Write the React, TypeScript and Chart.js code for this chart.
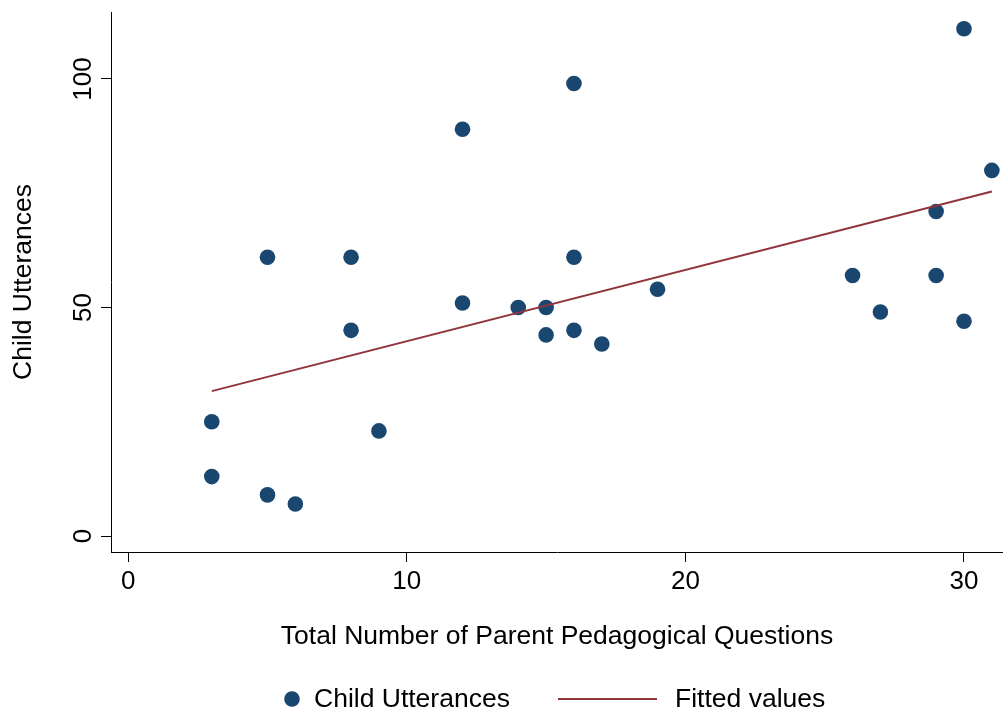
import React, { useEffect, useRef } from "react";
import { Chart, registerables } from "chart.js";

Chart.register(...registerables);

const questions = [3, 3, 5, 5, 6, 8, 8, 9, 12, 12, 14, 15, 15, 16, 16, 16, 17, 19, 26, 27, 29, 29, 30, 30, 31];
const utterances = [25, 13, 61, 9, 7, 61, 45, 23, 89, 51, 50, 50, 44, 99, 61, 45, 42, 54, 57, 49, 71, 57, 111, 47, 80];
const fitX = [3, 31];
const fitY = [31.7, 75.4];
const xTicks = [0, 10, 20, 30];
const yTicks = [0, 50, 100];
const xTitle = "Total Number of Parent Pedagogical Questions";
const yTitle = "Child Utterances";
const seriesNames = ["Child Utterances", "Fitted values"];

const NAVY = "#1a476f";
const MAROON = "#90353b";
const FONT = "'Liberation Sans', Arial, Helvetica, sans-serif";

const legendPlugin = {
  id: "stataLegend",
  afterDraw(chart: any) {
    const ctx = chart.ctx;
    const ds = chart.data.datasets;
    ctx.save();
    ctx.font = `26.5px ${FONT}`;
    ctx.textBaseline = "middle";
    ctx.textAlign = "left";
    const cy = 699;
    // scatter item
    ctx.fillStyle = ds[0].backgroundColor;
    ctx.beginPath();
    ctx.arc(292, cy, 7.8, 0, Math.PI * 2);
    ctx.fill();
    ctx.fillStyle = "#000";
    ctx.fillText(ds[0].label, 314, cy + 1);
    // line item
    ctx.strokeStyle = ds[1].borderColor;
    ctx.lineWidth = 2;
    ctx.beginPath();
    ctx.moveTo(558, cy);
    ctx.lineTo(657, cy);
    ctx.stroke();
    ctx.fillStyle = "#000";
    ctx.fillText(ds[1].label, 675, cy + 1);
    ctx.restore();
  },
};

export default function App() {
  const ref = useRef<HTMLCanvasElement | null>(null);
  useEffect(() => {
    if (!ref.current) return;
    const chart = new Chart(ref.current, {
      type: "scatter",
      data: {
        datasets: [
          {
            type: "scatter",
            label: seriesNames[0],
            data: questions.map((x, i) => ({ x, y: utterances[i] })),
            backgroundColor: NAVY,
            borderColor: NAVY,
            borderWidth: 0,
            pointRadius: 7.8,
            pointHoverRadius: 7.8,
            order: 1,
          },
          {
            type: "line",
            label: seriesNames[1],
            data: fitX.map((x, i) => ({ x, y: fitY[i] })),
            borderColor: MAROON,
            backgroundColor: MAROON,
            borderWidth: 2,
            pointRadius: 0,
            showLine: true,
            fill: false,
            order: 0,
          },
        ],
      },
      options: {
        responsive: false,
        animation: false,
        events: [],
        layout: { autoPadding: false, padding: { top: 12, right: 0, left: 0, bottom: 60 } },
        plugins: { legend: { display: false }, tooltip: { enabled: false } },
        scales: {
          x: {
            type: "linear",
            min: -0.617,
            max: 31.4,
            afterBuildTicks: (s: any) => {
              s.ticks = xTicks.map((v) => ({ value: v }));
            },
            afterFit: (s: any) => {
              s.height = 101;
              s.paddingLeft = 0;
              s.paddingRight = 0;
            },
            grid: { display: true, drawOnChartArea: false, drawTicks: true, tickLength: 10, color: "#000", lineWidth: 1 },
            border: { display: true, color: "#000", width: 1 },
            ticks: { color: "#000", font: { family: FONT, size: 26 }, padding: 4, maxRotation: 0, minRotation: 0 },
            title: { display: true, text: xTitle, color: "#000", font: { family: FONT, size: 26.5 }, padding: { top: 0, bottom: 0 } },
          },
          y: {
            type: "linear",
            min: -3.5,
            max: 114.66,
            afterBuildTicks: (s: any) => {
              s.ticks = yTicks.map((v) => ({ value: v }));
            },
            afterFit: (s: any) => {
              s.width = 111;
              s.paddingTop = 0;
              s.paddingBottom = 0;
            },
            grid: { display: true, drawOnChartArea: false, drawTicks: true, tickLength: 10, color: "#000", lineWidth: 1 },
            border: { display: true, color: "#000", width: 1 },
            ticks: { color: "#000", font: { family: FONT, size: 26 }, padding: -4.5, minRotation: 90, maxRotation: 90, crossAlign: "center" },
            title: { display: true, text: yTitle, color: "#000", font: { family: FONT, size: 26.5 }, padding: { top: 8, bottom: 0 } },
          },
        },
      },
      plugins: [legendPlugin],
    } as any);
    return () => chart.destroy();
  }, []);
  return (
    <div style={{ position: "fixed", left: 0, top: 0, width: 1003, height: 713, background: "#fff" }}>
      <canvas ref={ref} width={1003} height={713} style={{ display: "block", width: 1003, height: 713 }} />
    </div>
  );
}
